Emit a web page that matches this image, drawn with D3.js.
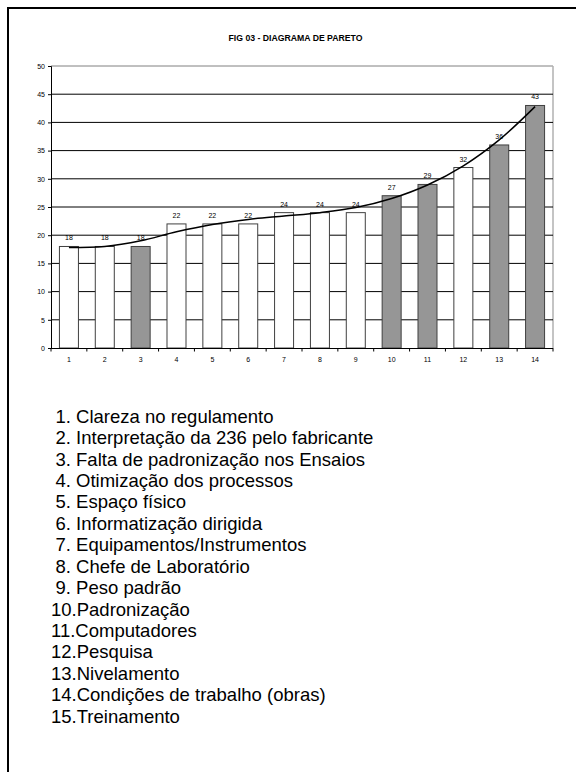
<!DOCTYPE html>
<html>
<head>
<meta charset="utf-8">
<script src="https://cdn.jsdelivr.net/npm/d3@7"></script>
<style>
  html, body { margin: 0; padding: 0; background: #fff; }
  svg { display: block; }
  text { font-family: "Liberation Sans", Arial, sans-serif; }
</style>
</head>
<body>
<script>
const title = "FIG 03 - DIAGRAMA DE PARETO";
const categories = ["1","2","3","4","5","6","7","8","9","10","11","12","13","14"];
const values = [18,18,18,22,22,22,24,24,24,27,29,32,36,43];
const highlighted = [false,false,true,false,false,false,false,false,false,true,true,false,true,true];
const trend = [17.8,18.0,19.0,20.6,21.9,22.8,23.4,24.0,24.9,26.5,28.9,32.3,36.9,42.8];
const yTicks = [0,5,10,15,20,25,30,35,40,45,50];
const listItems = [
  "1. Clareza no regulamento",
  "2. Interpretação da 236 pelo fabricante",
  "3. Falta de padronização nos Ensaios",
  "4. Otimização dos processos",
  "5. Espaço físico",
  "6. Informatização dirigida",
  "7. Equipamentos/Instrumentos",
  "8. Chefe de Laboratório",
  "9. Peso padrão",
  "10.Padronização",
  "11.Computadores",
  "12.Pesquisa",
  "13.Nivelamento",
  "14.Condições de trabalho (obras)",
  "15.Treinamento"
];

const W = 576, H = 772;
const svg = d3.select("body").append("svg").attr("width", W).attr("height", H);

// page frame (top and left edges)
svg.append("line").attr("x1", 7).attr("x2", W).attr("y1", 8).attr("y2", 8)
  .attr("stroke", "#000").attr("stroke-width", 2);
svg.append("line").attr("x1", 8).attr("x2", 8).attr("y1", 7).attr("y2", H)
  .attr("stroke", "#000").attr("stroke-width", 2);

// title
svg.append("text").attr("x", 295.5).attr("y", 40.5).attr("text-anchor", "middle")
  .attr("font-size", 8.7).attr("font-weight", "bold").attr("fill", "#000").text(title);

const pLeft = 51, pRight = 553, pTop = 66, pBottom = 348;
const y = d3.scaleLinear().domain([0, 50]).range([pBottom, pTop]);
const xOuter = d3.scaleBand().domain(categories).range([pLeft, pRight]).padding(0);
const xBar = d3.scaleBand().domain(categories).range([pLeft, pRight]).paddingInner(0.47).paddingOuter(0.235);

// plot area border (top and right, gray)
svg.append("line").attr("x1", pLeft).attr("x2", pRight).attr("y1", y(50)).attr("y2", y(50))
  .attr("stroke", "#808080").attr("stroke-width", 1);
svg.append("line").attr("x1", pRight).attr("x2", pRight).attr("y1", y(50)).attr("y2", y(0))
  .attr("stroke", "#b0b0b0").attr("stroke-width", 1.5);

// gridlines
svg.append("g").selectAll("line").data(yTicks.filter(t => t > 0 && t < 50)).join("line")
  .attr("x1", pLeft).attr("x2", pRight).attr("y1", d => y(d)).attr("y2", d => y(d))
  .attr("stroke", "#000").attr("stroke-width", 1);

// bars
svg.append("g").selectAll("rect").data(values).join("rect")
  .attr("x", (d, i) => xBar(categories[i]))
  .attr("y", d => y(d))
  .attr("width", xBar.bandwidth())
  .attr("height", d => y(0) - y(d))
  .attr("fill", (d, i) => highlighted[i] ? "#969696" : "#ffffff")
  .attr("stroke", "#404040").attr("stroke-width", 1);

// value labels
svg.append("g").selectAll("text").data(values).join("text")
  .attr("x", (d, i) => xBar(categories[i]) + xBar.bandwidth() / 2)
  .attr("y", d => y(d) - 6)
  .attr("text-anchor", "middle").attr("font-size", 7).attr("fill", "#000")
  .text(d => d);

// trend line
const line = d3.line()
  .x((d, i) => xBar(categories[i]) + xBar.bandwidth() / 2)
  .y(d => y(d))
  .curve(d3.curveCatmullRom.alpha(0.5));
svg.append("path").datum(trend).attr("d", line)
  .attr("fill", "none").attr("stroke", "#000").attr("stroke-width", 1.5);

// y axis
const yAxis = d3.axisLeft(y).tickValues(yTicks).tickSize(3).tickPadding(3);
const gy = svg.append("g").attr("transform", `translate(${pLeft},0)`).call(yAxis);
gy.select(".domain").attr("stroke", "#000");
gy.selectAll(".tick line").attr("stroke", "#000");
gy.selectAll("text").attr("font-size", 7).attr("font-family", "Liberation Sans, Arial, sans-serif").attr("fill", "#000");

// x axis: labels at band centers, ticks at band boundaries
const xAxis = d3.axisBottom(xOuter).tickSize(0).tickPadding(9);
const gx = svg.append("g").attr("transform", `translate(0,${pBottom})`).call(xAxis);
gx.select(".domain").attr("stroke", "#000").attr("d", `M${pLeft},0.5H${pRight}`);
gx.selectAll("text").attr("font-size", 7).attr("font-family", "Liberation Sans, Arial, sans-serif").attr("fill", "#000");
const boundaries = categories.map(c => xOuter(c)).concat([pRight]);
gx.append("g").selectAll("line").data(boundaries).join("line")
  .attr("x1", d => d).attr("x2", d => d).attr("y1", 0).attr("y2", 3.5)
  .attr("stroke", "#000").attr("stroke-width", 1);

// numbered list
svg.append("g").selectAll("text").data(listItems).join("text")
  .attr("x", d => /^\d\d/.test(d) ? 51 : 55.5)
  .attr("y", (d, i) => 422.7 + i * 21.43)
  .attr("font-size", 18.5).attr("fill", "#000")
  .text(d => d);
</script>
</body>
</html>
